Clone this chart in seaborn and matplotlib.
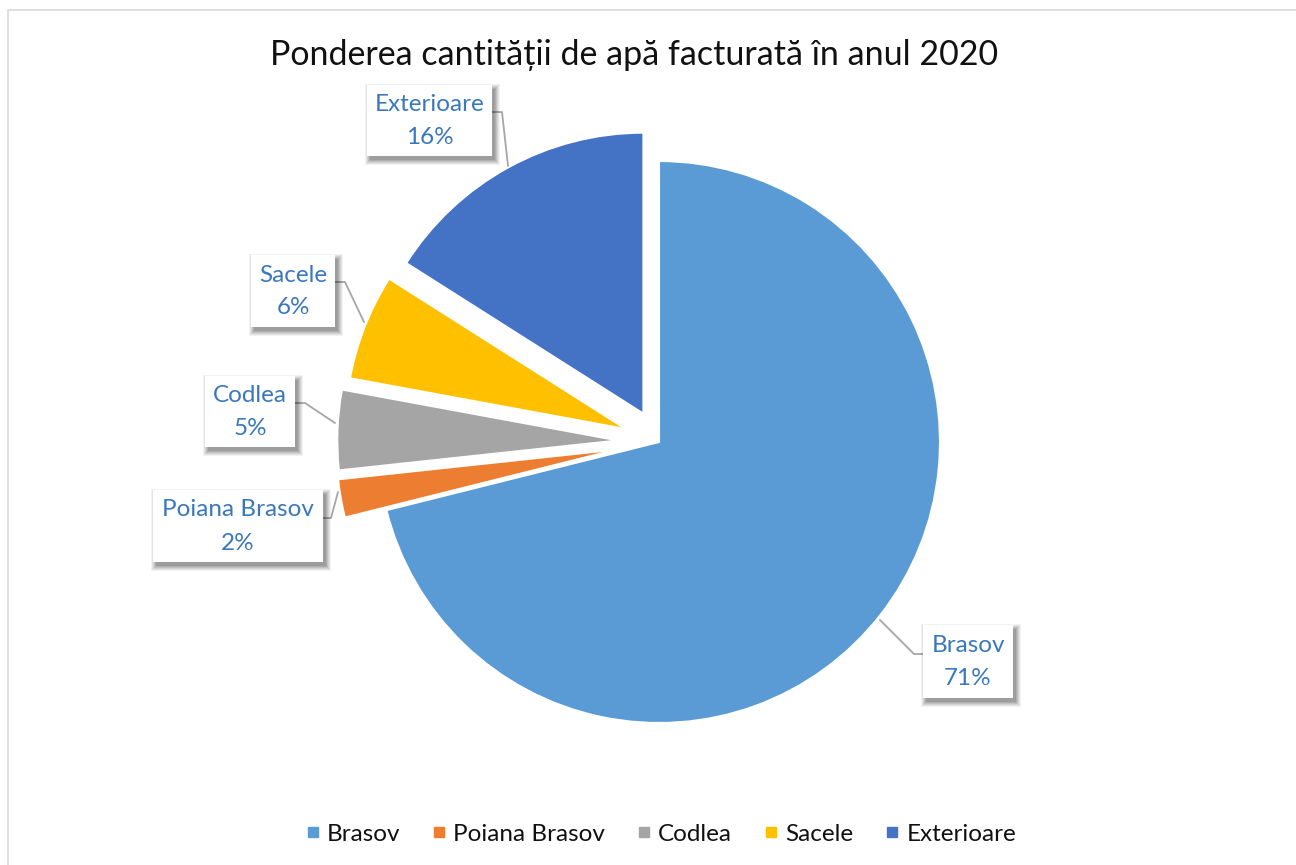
import matplotlib
matplotlib.use("Agg")
import matplotlib.pyplot as plt
from matplotlib.patches import Rectangle
from matplotlib.lines import Line2D
import seaborn as sns

sns.set_theme(style="white")
plt.rcParams['font.family'] = ['Lato', 'DejaVu Sans']

# ---- data ----
categories = ["Brasov", "Poiana Brasov", "Codlea", "Sacele", "Exterioare"]
shares = [71.1, 2.2, 4.6, 6.1, 16.0]
colors = ["#5B9BD5", "#ED7D31", "#A5A5A5", "#FFC000", "#4472C4"]
title = "Ponderea cantității de apă facturată în anul 2020"

W, H = 1296, 865
fig = plt.figure(figsize=(W / 100, H / 100), dpi=100)
ax = fig.add_axes([0, 0, 1, 1])

def Y(py):
    return H - py

# chart border
ax.add_patch(Rectangle((8, Y(1000)), 1400, 1000 - 10, fill=False,
                       edgecolor="#D9D9D9", linewidth=1.2, zorder=0))

R = 281
center = (659, Y(442))
explode_frac = [0.0, 0.15, 0.145, 0.125, 0.115]
explode = [e * R for e in explode_frac]
wedges, _ = ax.pie(shares, colors=colors, startangle=90, counterclock=False,
                   radius=R, center=center, explode=explode,
                   wedgeprops=dict(edgecolor="white", linewidth=1.5))
ax.set_xlim(0, W)
ax.set_ylim(0, H)
ax.set_aspect("auto")
ax.axis("off")

# label boxes (x0, y0, x1, y1 in pixel coords)
boxes = [
    (923, 625, 1013, 698),
    (153, 490, 323, 562),
    (205, 376, 295, 447),
    (251, 255, 335, 327),
    (367, 85, 492, 156),
]
leaders = [
    [(880, 620), (914, 654), (923, 654)],
    [(323, 518), (331, 518), (338, 492)],
    [(295, 403), (305, 403), (335, 423)],
    [(335, 282), (345, 282), (364, 322)],
    [(492, 112), (502, 112), (508, 166)],
]
label_color = "#3A78BD"
for name, v, b, ld in zip(categories, shares, boxes, leaders):
    x0, y0, x1, y1 = b
    # soft shadow (offset right/down, blurred)
    ox, oy = 3, 4
    for g, a in [(5, 0.05), (4, 0.06), (3, 0.07), (2, 0.08), (1, 0.09), (0, 0.10)]:
        ax.add_patch(Rectangle((x0 + ox - g, Y(y1 + oy + g)), x1 - x0 + 2 * g,
                               y1 - y0 + 2 * g, facecolor="#000000", alpha=a,
                               edgecolor="none", zorder=3))
    ax.add_patch(Rectangle((x0, Y(y1)), x1 - x0, y1 - y0, facecolor="white",
                           edgecolor="none", zorder=4))
    xs = [p[0] for p in ld]
    ys = [Y(p[1]) for p in ld]
    ax.add_line(Line2D(xs, ys, color="#A6A6A6", linewidth=1.3, zorder=2))
    cx = (x0 + x1) / 2
    cy = (y0 + y1) / 2
    ax.text(cx, Y(cy - 16), name, ha="center", va="center", fontsize=17.5,
            color=label_color, zorder=5)
    ax.text(cx, Y(cy + 17), f"{round(v)}%", ha="center", va="center", fontsize=17.5,
            color=label_color, zorder=5)

ax.text(634, Y(55), title, ha="center", va="center", fontsize=24.5, color="#111111")

handles = [Line2D([0], [0], marker="s", linestyle="none", markersize=6.5,
                  markerfacecolor=c, markeredgecolor=c) for c in colors]
fig.legend(handles, categories, loc="center", ncol=5,
           bbox_to_anchor=(662 / W, 1 - 834 / H), frameon=False,
           fontsize=17.5, handlelength=0.4, handletextpad=0.38,
           columnspacing=1.4, labelcolor="#111111")

fig.savefig("out.png", dpi=100, facecolor="white")
